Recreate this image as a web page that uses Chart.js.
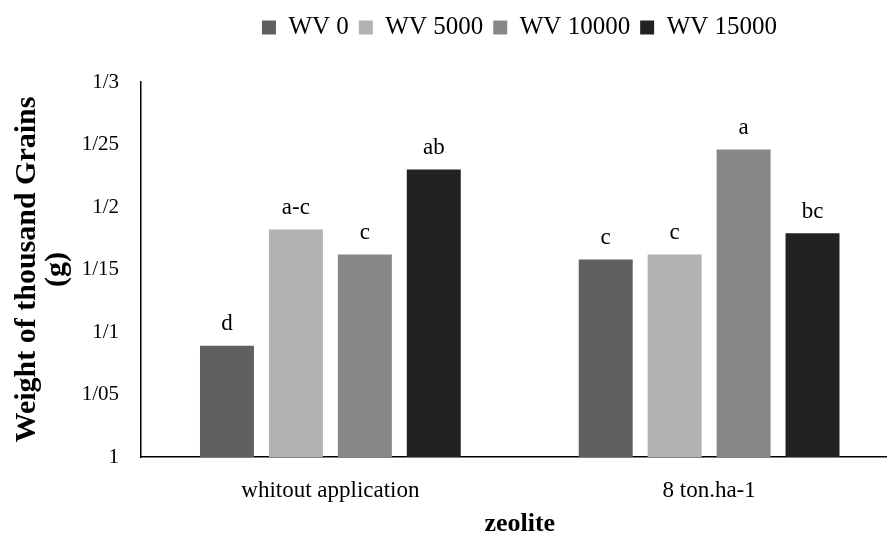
<!DOCTYPE html>
<html>
<head>
<meta charset="utf-8">
<script src="https://cdn.jsdelivr.net/npm/chart.js@4.4.0/dist/chart.umd.min.js"></script>
<style>
  html, body { margin:0; padding:0; background:#fff; }
  #clip { width:887px; height:533px; overflow:hidden; position:relative; }
  #wrap { width:1039px; height:533px; position:absolute; left:0; top:0; }
</style>
</head>
<body>
<div id="clip"><div id="wrap"><canvas id="c"></canvas></div></div>
<script>
const categories = ['whitout application', '8 ton.ha-1'];
const seriesNames = ['WV 0', 'WV 5000', 'WV 10000', 'WV 15000'];
const wv0     = [1.089, 1.158];
const wv5000  = [1.182, 1.162];
const wv10000 = [1.162, 1.246];
const wv15000 = [1.230, 1.179];
const letters0     = ['d', 'c'];
const letters5000  = ['a-c', 'c'];
const letters10000 = ['c', 'a'];
const letters15000 = ['ab', 'bc'];
const yTickLabels = ['1', '1/05', '1/1', '1/15', '1/2', '1/25', '1/3'];
const yTitle = ['Weight of thousand Grains', '(g)'];
const xTitle = 'zeolite';

const colors = ['#606060', '#b2b2b2', '#888888', '#222222'];
const seriesValues = [wv0, wv5000, wv10000, wv15000];
const seriesLetters = [letters0, letters5000, letters10000, letters15000];

const serif = "'Liberation Serif', 'Times New Roman', serif";

const labelPlugin = {
  id: 'sigLetters',
  afterDatasetsDraw(chart) {
    const ctx = chart.ctx;
    ctx.save();
    ctx.font = "23px " + serif;
    ctx.fillStyle = '#000';
    ctx.textAlign = 'center';
    ctx.textBaseline = 'bottom';
    chart.data.datasets.forEach((ds, i) => {
      const meta = chart.getDatasetMeta(i);
      meta.data.forEach((bar, j) => {
        ctx.fillText(seriesLetters[i][j], bar.x, bar.y - 10);
      });
    });
    ctx.restore();
  }
};

const legendPlugin = {
  id: 'legendBox',
  beforeInit(chart) {
    const orig = chart.legend.fit;
    chart.legend.fit = function() {
      orig.bind(chart.legend)();
      this.height = 77;
    };
  },
  afterLayout(chart) {
    // centre the legend on the full figure width, as in the original figure
    chart.legend.left = 0;
    chart.legend.right = chart.width;
  }
};

new Chart(document.getElementById('c'), {
  type: 'bar',
  data: {
    labels: categories,
    datasets: seriesValues.map((vals, i) => ({
      label: seriesNames[i],
      data: vals,
      backgroundColor: colors[i],
      borderWidth: 0,
      categoryPercentage: 0.728,
      barPercentage: 0.783
    }))
  },
  options: {
    responsive: true,
    maintainAspectRatio: false,
    animation: false,
    layout: { padding: { left: 0, right: 140.5, top: 5, bottom: 0 } },
    plugins: {
      legend: {
        position: 'top',
        labels: {
          boxWidth: 14, boxHeight: 14, padding: 10,
          color: '#000',
          font: { family: serif, size: 25 }
        }
      },
      tooltip: { enabled: false }
    },
    scales: {
      x: {
        grid: { display: false, drawTicks: false },
        border: { display: true, color: '#000', width: 1.5 },
        ticks: { color: '#000', padding: 20, font: { family: serif, size: 23 } },
        title: { display: true, text: xTitle, color: '#000', padding: { top: 6, bottom: 0 },
                 font: { family: serif, size: 26, weight: 'bold', lineHeight: 0.7 } },
        afterFit(scale) { scale.height = 76; }
      },
      y: {
        min: 1, max: 1.3,
        grid: { display: false, drawTicks: false },
        border: { display: true, color: '#000', width: 1.5 },
        ticks: {
          stepSize: 0.05, color: '#000', padding: 22,
          font: { family: serif, size: 21 },
          callback: (v, idx) => yTickLabels[idx]
        },
        title: { display: true, text: yTitle, color: '#000', padding: { top: 12, bottom: 0 },
                 font: { family: serif, size: 30, weight: 'bold', lineHeight: 1.0 } },
        afterFit(scale) { scale.width = 141; }
      }
    }
  },
  plugins: [labelPlugin, legendPlugin]
});
</script>
</body>
</html>
